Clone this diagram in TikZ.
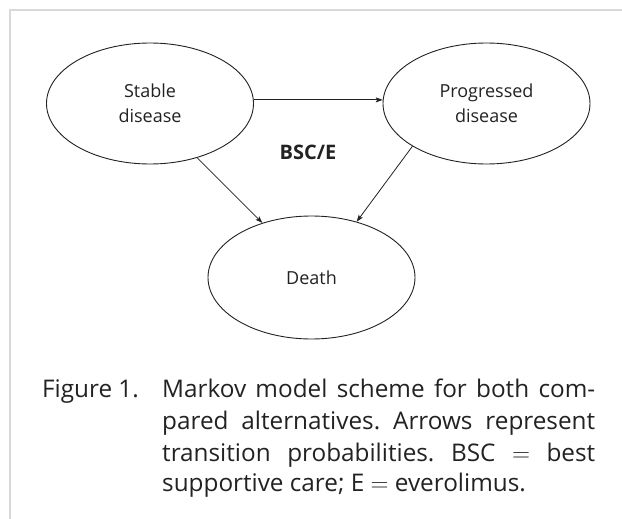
\documentclass[tikz,border=0pt]{standalone}
\usepackage{fontspec}
\setmainfont{Open Sans}
\usetikzlibrary{shapes.geometric,arrows.meta}
\definecolor{ink}{HTML}{222222}
\definecolor{framegray}{HTML}{D9D9D9}
\tikzset{
  state/.style={ellipse,draw=ink,line width=0.9pt,inner sep=0pt,
    minimum width=207pt,minimum height=121pt,align=center,
    font=\fontsize{18}{25}\selectfont,text=ink},
  trans/.style={draw=ink,line width=0.8pt,-{Stealth[length=7pt,width=5pt,inset=1.5pt]}},
  captxt/.style={anchor=base west,inner sep=0pt,font=\frenchspacing\fontsize{24.3}{31}\selectfont,text=ink}
}
\begin{document}
\begin{tikzpicture}[x=1pt,y=-1pt]
\useasboundingbox (0,0) rectangle (622,519);
\draw[framegray,line width=2.5pt] (622,10) -- (10,10) -- (10,519);
\node[state] (stable) at (150,103.5) {Stable\\disease};
\node[state] (prog) at (486.5,103.5) {Progressed\\disease};
\node[state,minimum height=123pt] (death) at (311.5,277.5) {Death};
\node[font=\fontsize{20}{22}\selectfont\bfseries,text=ink,inner sep=0pt] (lbl) at (308,152) {BSC/E};
\draw[trans] (stable.2) -- (prog.178);
\draw[trans] (stable.-49) -- (death.132);
\draw[trans] (prog.210) -- (death.51);
\node[captxt] (fig) at (42,397) {Figure 1.};
\node[captxt] (c1) at (162,397) {\makebox[433pt][s]{Markov model scheme for both com-}};
\node[captxt] (c2) at (162,429) {\makebox[433pt][s]{pared alternatives. Arrows represent}};
\node[captxt] (c3) at (162,461) {\makebox[433pt][s]{transition probabilities. BSC $=$ best}};
\node[captxt] (c4) at (162,491) {supportive care; E $=$ everolimus.};
\end{tikzpicture}
\end{document}
